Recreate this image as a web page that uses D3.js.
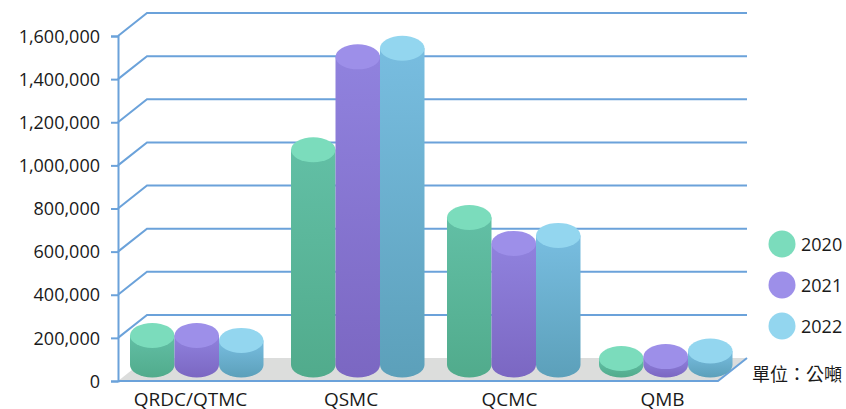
<!DOCTYPE html>
<html>
<head>
<meta charset="utf-8">
<script src="https://cdn.jsdelivr.net/npm/d3@7"></script>
<style>
body{margin:0;background:#fff}
svg{display:block}
text{font-family:"Open Sans","Noto Sans CJK TC",sans-serif;fill:#1a1a1a}
</style>
</head>
<body>
<svg></svg>
<script>
var screen = {width:846,height:409}

var categories = ["QRDC/QTMC","QSMC","QCMC","QMB"]
var years = ["2020","2021","2022"]
var values2020 = [137000,998000,684000,30000]
var values2021 = [137000,1429000,564000,39000]
var values2022 = [114000,1469000,601000,65000]
var yTicks = [0,200000,400000,600000,800000,1000000,1200000,1400000,1600000]
var unitLabel = "單位：公噸"

//colours per year: cap, body top, body bottom
var capColors = ["#7bdcbc","#9d8fe9","#93d6ef"]
var bodyTop = ["#62bfa5","#9082de","#78bde0"]
var bodyBottom = ["#51ab8c","#7b67c2","#5ca0ba"]

var depth = {x:29,y:-23}
var capRy = 12.5

var svg = d3.select("svg")
    .attr("width",screen.width)
    .attr("height",screen.height)

var yFront = d3.scaleLinear().domain([0,1600000]).range([381,36])
//bars stand in the middle of the floor so they get their own baseline
var yBar = d3.scaleLinear().domain([0,1600000]).range([365,20])
var xGroup = d3.scaleOrdinal().domain(categories).range([130,291,447,599])
var xLabel = d3.scaleOrdinal().domain(categories).range([190,350.5,509,662])
var xYear = d3.scaleBand().domain(years).range([0,133.5])

var defs = svg.append("defs")
years.forEach(function(year,i)
{
    var grad = defs.append("linearGradient")
        .attr("id","body"+year)
        .attr("x1",0).attr("y1",0).attr("x2",0).attr("y2",1)
    grad.append("stop").attr("offset","0%").attr("stop-color",bodyTop[i])
    grad.append("stop").attr("offset","100%").attr("stop-color",bodyBottom[i])
})

//floor
var x0 = 118, x1 = 718
svg.append("polygon")
    .attr("points",[[x0,yFront(0)],[x0+depth.x,yFront(0)+depth.y],[x1+depth.x,yFront(0)+depth.y],[x1,yFront(0)]].join(" "))
    .attr("fill","#dcdddc")
svg.append("path")
    .attr("d","M"+x0+","+yFront(0)+"H"+x1+"l"+depth.x+","+depth.y)
    .attr("fill","none")
    .attr("stroke","#6ba2da")
    .attr("stroke-width",2)

//wall lines
svg.append("g").selectAll("path")
    .data(yTicks.slice(1))
    .enter()
    .append("path")
    .attr("d",function(t)
    {
        return "M"+x0+","+yFront(t)+"l"+depth.x+","+depth.y+"H"+(x1+depth.x)
    })
    .attr("fill","none")
    .attr("stroke","#6ba2da")
    .attr("stroke-width",2)

//y axis
var yAxis = d3.axisLeft(yFront)
    .tickValues(yTicks)
    .tickFormat(d3.format(","))
    .tickSize(7)
    .tickPadding(11)
var yG = svg.append("g")
    .attr("transform","translate("+x0+",0)")
    .call(yAxis)
yG.selectAll("path,line").attr("stroke","#6ba2da").attr("stroke-width",2)
yG.selectAll("text").attr("font-size",18).attr("dy","0.34em").style("font-family",null)

//x labels
var xAxis = d3.axisBottom(xLabel).tickSize(0).tickPadding(0)
var xG = svg.append("g")
    .attr("transform","translate(0,392)")
    .call(xAxis)
xG.select(".domain").remove()
xG.selectAll("text").attr("font-size",19).style("font-family",null)

//cylinders
var series = [values2020,values2021,values2022]
years.forEach(function(year,i)
{
    var g = svg.append("g").attr("class","series"+year)
    var w = xYear.bandwidth()
    g.selectAll("path")
        .data(series[i])
        .enter()
        .append("path")
        .attr("fill","url(#body"+year+")")
        .attr("d",function(v,c)
        {
            var left = xGroup(categories[c])+xYear(year)
            return "M"+left+","+yBar(v)+"V"+yBar(0)
                +"A"+w/2+","+capRy+" 0 0 0 "+(left+w)+","+yBar(0)
                +"V"+yBar(v)+"Z"
        })
    g.selectAll("ellipse")
        .data(series[i])
        .enter()
        .append("ellipse")
        .attr("cx",function(v,c){return xGroup(categories[c])+xYear(year)+w/2})
        .attr("cy",function(v){return yBar(v)})
        .attr("rx",w/2)
        .attr("ry",capRy)
        .attr("fill",capColors[i])
})

//legend
var yLegend = d3.scalePoint().domain(years).range([244,326])
var legend = svg.append("g").selectAll("g")
    .data(years)
    .enter()
    .append("g")
    .attr("transform",function(y){return "translate(782,"+yLegend(y)+")"})
legend.append("circle")
    .attr("r",13.5)
    .attr("fill",function(y,i){return capColors[i]})
legend.append("text")
    .attr("x",19)
    .attr("y",7)
    .attr("font-size",18)
    .text(function(y){return y})

svg.append("text")
    .attr("x",752)
    .attr("y",381)
    .attr("font-size",18)
    .text(unitLabel)
</script>
</body>
</html>
